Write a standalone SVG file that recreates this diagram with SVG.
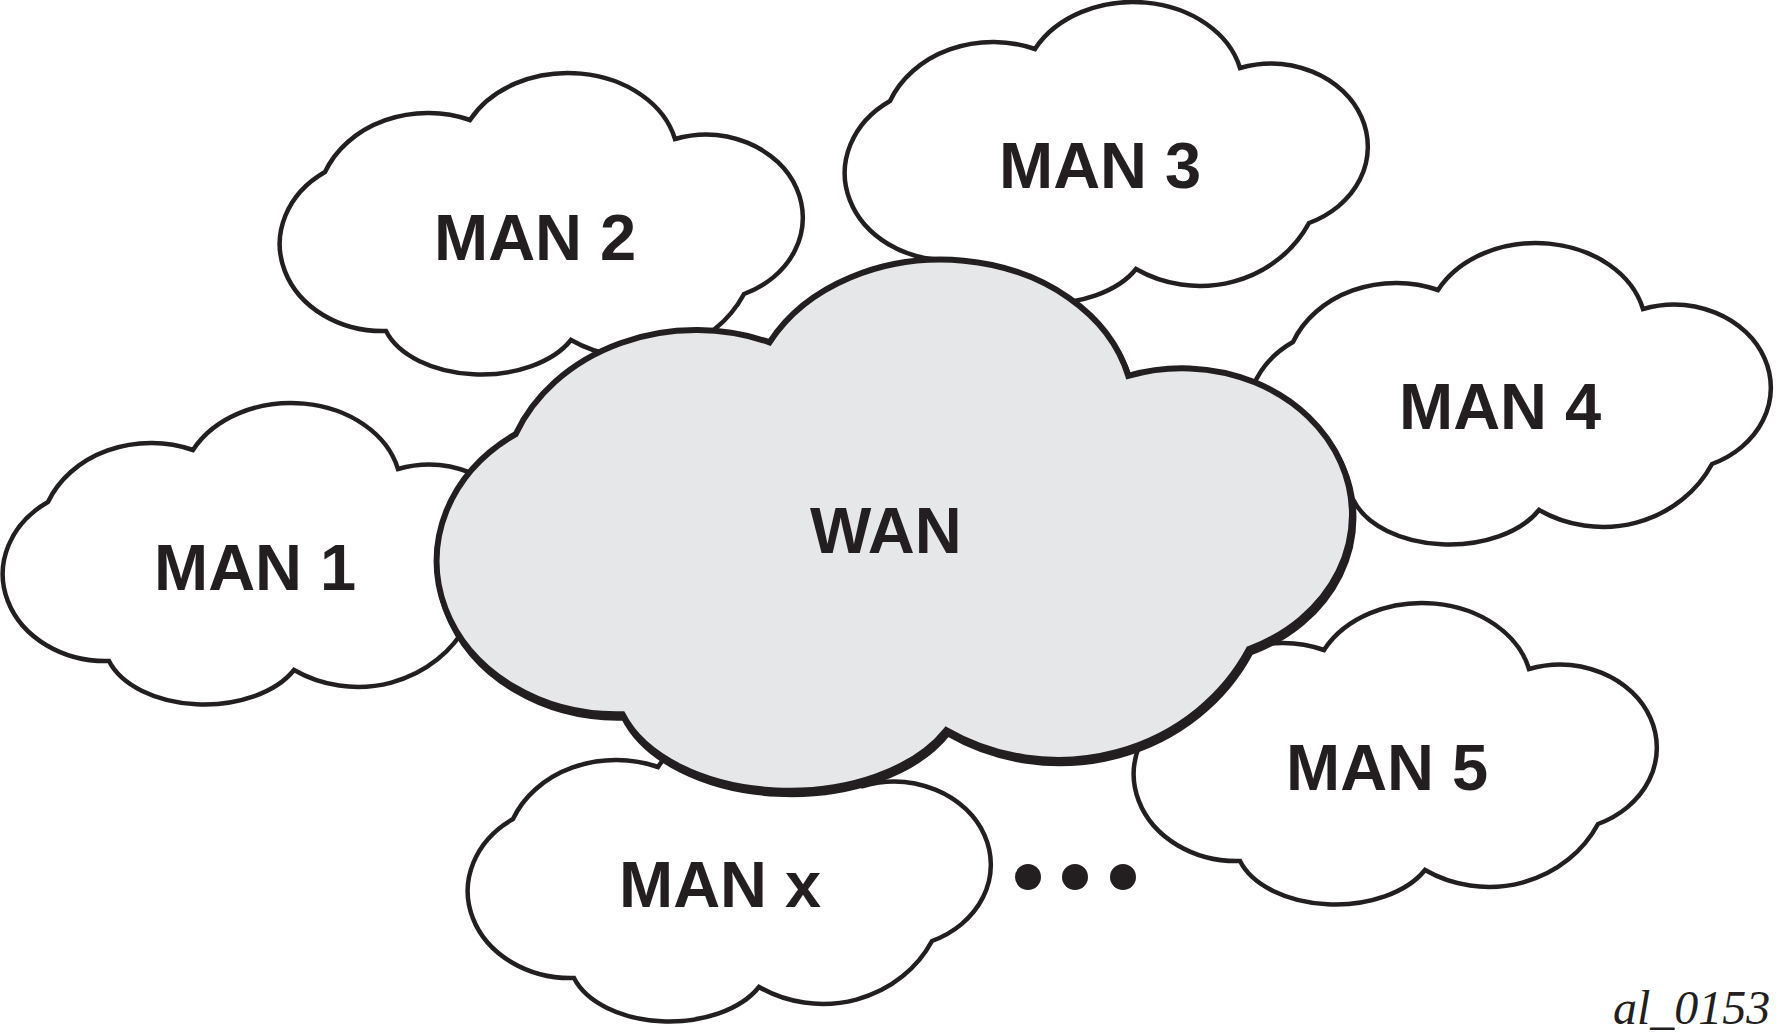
<svg xmlns="http://www.w3.org/2000/svg" xmlns:xlink="http://www.w3.org/1999/xlink" width="1780" height="1036" viewBox="0 0 1780 1036">
  <style>
    .man { fill: #ffffff; stroke: #231f20; stroke-width: 4.5; stroke-linejoin: miter; }
    .wan { fill: #e6e7e8; stroke: #231f20; stroke-width: 3.4; stroke-linejoin: miter; }
    .wanshadow { fill: #231f20; stroke: #231f20; stroke-width: 3.4; }
    .lbl { font-family: "Liberation Sans", Arial, Helvetica, sans-serif; font-weight: bold; font-size: 65px; fill: #231f20; }
    .tag { font-family: "Liberation Serif", "Times New Roman", serif; font-style: italic; font-size: 48px; fill: #231f20; }
    .dot { fill: #231f20; }
  </style>
  <defs>
    <path id="cloud" d="M45,99 A111,94 0 0 1 190,47 A110,86 0 0 1 395,66 A97,83 0 0 1 464,221 A122,114 0 0 1 291,267 A100,62 0 0 1 106,258 A103,87 0 0 1 45,99 Z"/>
  </defs>
  <rect width="1780" height="1036" fill="#ffffff"/>

  <g id="man1">
    <use xlink:href="#cloud" href="#cloud" class="man" transform="translate(3,403)"/>
    <text class="lbl" x="154" y="590">MAN 1</text>
  </g>
  <g id="man2">
    <use xlink:href="#cloud" href="#cloud" class="man" transform="translate(280,73)"/>
    <text class="lbl" x="434" y="260">MAN 2</text>
  </g>
  <g id="man3">
    <use xlink:href="#cloud" href="#cloud" class="man" transform="translate(845,2)"/>
    <text class="lbl" x="999" y="188">MAN 3</text>
  </g>
  <g id="man4">
    <use xlink:href="#cloud" href="#cloud" class="man" transform="translate(1248,243)"/>
    <text class="lbl" x="1399" y="429">MAN 4</text>
  </g>
  <g id="man5">
    <use xlink:href="#cloud" href="#cloud" class="man" transform="translate(1134,603)"/>
    <text class="lbl" x="1286" y="790">MAN 5</text>
  </g>
  <g id="manx">
    <use xlink:href="#cloud" href="#cloud" class="man" transform="translate(468,720)"/>
    <text class="lbl" x="619" y="907">MAN x</text>
  </g>

  <g id="wan">
    <use xlink:href="#cloud" href="#cloud" class="wanshadow" transform="translate(438.5,263) scale(1.75,1.762)"/>
    <use xlink:href="#cloud" href="#cloud" class="wan" transform="translate(437,259.6) scale(1.75,1.762)"/>
    <text class="lbl" x="810" y="553">WAN</text>
  </g>

  <g id="connectors"></g>

  <g id="ellipsis">
    <circle class="dot" cx="1028" cy="877" r="13"/>
    <circle class="dot" cx="1075" cy="877" r="13"/>
    <circle class="dot" cx="1123" cy="877" r="13"/>
  </g>

  <text id="figure-id" class="tag" x="1613" y="1024">al_0153</text>
</svg>
